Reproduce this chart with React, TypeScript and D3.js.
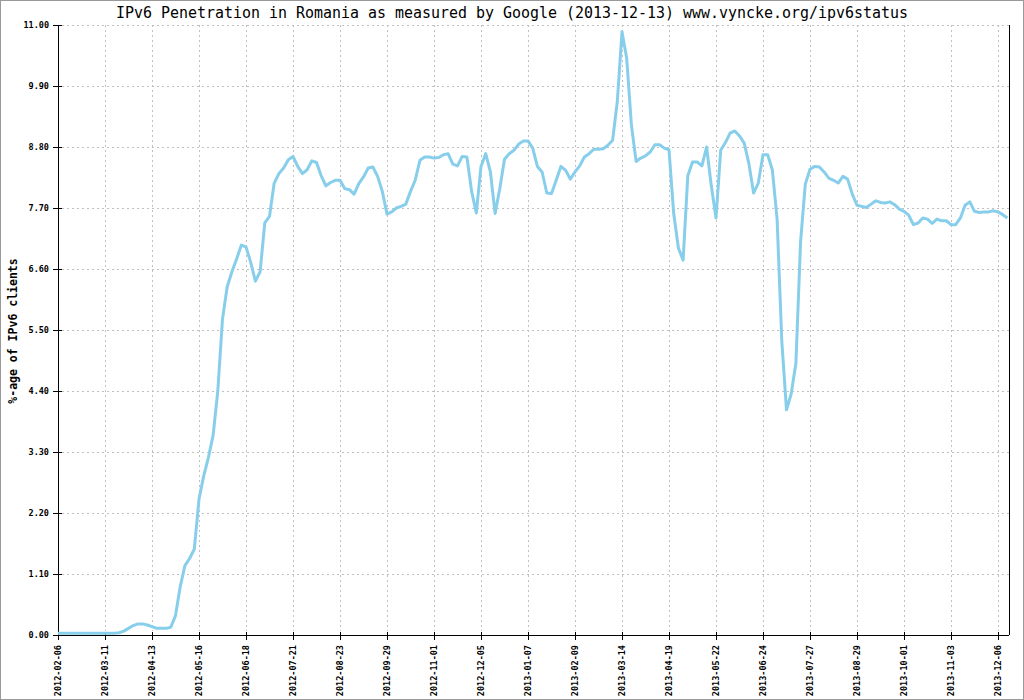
import { useMemo } from "react";
import { scaleLinear, line, curveLinear } from "d3";

const totalWidth = 1024;
const totalHeight = 700;
const left = 58;
const top = 25;
const bottom = 635;
const right = 1009;
const tickStep = 10; // samples between two date ticks

const title =
  "IPv6 Penetration in Romania as measured by Google (2013-12-13) www.vyncke.org/ipv6status";
const yLabel = "%-age of IPv6 clients";

const dateTicks = [
  "2012-02-06", "2012-03-11", "2012-04-13", "2012-05-16", "2012-06-18",
  "2012-07-21", "2012-08-23", "2012-09-29", "2012-11-01", "2012-12-05",
  "2013-01-07", "2013-02-09", "2013-03-14", "2013-04-19", "2013-05-22",
  "2013-06-24", "2013-07-27", "2013-08-29", "2013-10-01", "2013-11-03",
  "2013-12-06",
];

const yTicks = [0, 1.1, 2.2, 3.3, 4.4, 5.5, 6.6, 7.7, 8.8, 9.9, 11];

// % of IPv6 clients, one sample per ~3.3 days
const penetration = [
  0.03, 0.03, 0.03, 0.03, 0.03, 0.03, 0.03, 0.03, 0.03, 0.03,
  0.03, 0.03, 0.03, 0.04, 0.07, 0.12, 0.17, 0.2, 0.2, 0.18,
  0.15, 0.12, 0.12, 0.12, 0.14, 0.35, 0.87, 1.25, 1.38, 1.55,
  2.45, 2.87, 3.2, 3.6, 4.4, 5.7, 6.28, 6.55, 6.78, 7.03,
  7.0, 6.72, 6.38, 6.55, 7.43, 7.55, 8.15, 8.32, 8.42, 8.57,
  8.63, 8.45, 8.32, 8.39, 8.55, 8.52, 8.28, 8.1, 8.16, 8.2,
  8.2, 8.05, 8.03, 7.95, 8.14, 8.26, 8.42, 8.44, 8.27, 8.0,
  7.59, 7.63, 7.7, 7.73, 7.77, 8.0, 8.2, 8.56, 8.62, 8.62,
  8.6, 8.61, 8.66, 8.68, 8.49, 8.46, 8.63, 8.62, 8.0, 7.61,
  8.45, 8.68, 8.35, 7.6, 8.05, 8.58, 8.68, 8.74, 8.85, 8.91,
  8.91, 8.78, 8.45, 8.35, 7.97, 7.96, 8.2, 8.45, 8.38, 8.22,
  8.35, 8.46, 8.62, 8.68, 8.76, 8.76, 8.77, 8.83, 8.92, 9.62,
  10.88, 10.4, 9.2, 8.54, 8.6, 8.64, 8.71, 8.84, 8.84, 8.78,
  8.75, 7.6, 6.98, 6.76, 8.28, 8.53, 8.53, 8.46, 8.8, 8.1,
  7.52, 8.74, 8.88, 9.05, 9.09, 9.0, 8.87, 8.5, 7.97, 8.15,
  8.66, 8.66, 8.38, 7.5, 5.3, 4.06, 4.35, 4.9, 7.1, 8.13,
  8.4, 8.45, 8.44, 8.35, 8.24, 8.2, 8.15, 8.27, 8.22, 7.95,
  7.75, 7.73, 7.71, 7.77, 7.83, 7.8, 7.79, 7.81, 7.76, 7.68,
  7.64, 7.57, 7.4, 7.43, 7.52, 7.5, 7.42, 7.5, 7.47, 7.47,
  7.4, 7.4, 7.52, 7.75, 7.81, 7.64, 7.62, 7.63, 7.63, 7.65,
  7.63, 7.58, 7.52,
];

const mono = "'DejaVu Sans Mono', monospace";

export default function App() {
  const { xScale, yScale, path } = useMemo(() => {
    const lastTick = (dateTicks.length - 1) * tickStep;
    const xScale = scaleLinear().domain([0, lastTick]).range([left, 998]);
    const yScale = scaleLinear().domain([0, 11]).range([bottom, top]);
    const path = line<number>()
      .x((_, i) => xScale(i))
      .y((d) => yScale(d))
      .curve(curveLinear)(penetration);
    return { xScale, yScale, path };
  }, []);

  return (
    <svg
      width={totalWidth}
      height={totalHeight}
      viewBox={`0 0 ${totalWidth} ${totalHeight}`}
      style={{ position: "absolute", left: 0, top: 0, background: "white" }}
    >
      <rect x={0} y={0} width={totalWidth} height={totalHeight} fill="white" />
      <rect
        x={0.5}
        y={0.5}
        width={totalWidth - 1}
        height={totalHeight - 1}
        fill="none"
        stroke="#999"
      />
      <text
        x={512}
        y={18}
        textAnchor="middle"
        fontFamily={mono}
        fontSize={15}
        textLength={792}
        lengthAdjust="spacingAndGlyphs"
      >
        {title}
      </text>

      {/* grid */}
      <g stroke="#c0c0c0" strokeDasharray="2 3" shapeRendering="crispEdges">
        {yTicks.map((t) => (
          <line key={t} x1={left + 4} x2={right} y1={yScale(t)} y2={yScale(t)} />
        ))}
        {dateTicks.map((d, i) => (
          <line
            key={d}
            x1={xScale(i * tickStep)}
            x2={xScale(i * tickStep)}
            y1={top}
            y2={bottom - 4}
          />
        ))}
      </g>

      {/* axes */}
      <g stroke="black" shapeRendering="crispEdges">
        <line x1={left} x2={left} y1={top} y2={bottom} />
        <line x1={left} x2={right} y1={bottom} y2={bottom} />
        <line x1={right} x2={right} y1={top} y2={bottom} />
        {yTicks.map((t) => (
          <line key={t} x1={left - 5} x2={left + 4} y1={yScale(t)} y2={yScale(t)} />
        ))}
        {dateTicks.map((d, i) => (
          <line
            key={d}
            x1={xScale(i * tickStep)}
            x2={xScale(i * tickStep)}
            y1={bottom - 3}
            y2={bottom + 5}
          />
        ))}
      </g>

      {yTicks.map((t) => (
        <text
          key={t}
          x={49}
          y={yScale(t) + 3}
          textAnchor="end"
          fontFamily={mono}
          fontSize={8.5}
          fontWeight="bold"
        >
          {t.toFixed(2)}
        </text>
      ))}
      {dateTicks.map((d, i) => (
        <text
          key={d}
          transform={`translate(${xScale(i * tickStep) + 3}, 645) rotate(-90)`}
          textAnchor="end"
          fontFamily={mono}
          fontSize={8.5}
          fontWeight="bold"
        >
          {d}
        </text>
      ))}
      <text
        transform={`translate(17, 331) rotate(-90)`}
        textAnchor="middle"
        fontFamily={mono}
        fontSize={11.5}
        fontWeight="bold"
      >
        {yLabel}
      </text>

      <path
        d={path ?? ""}
        fill="none"
        stroke="#87ceeb"
        strokeWidth={3}
        strokeLinejoin="round"
      />
    </svg>
  );
}
